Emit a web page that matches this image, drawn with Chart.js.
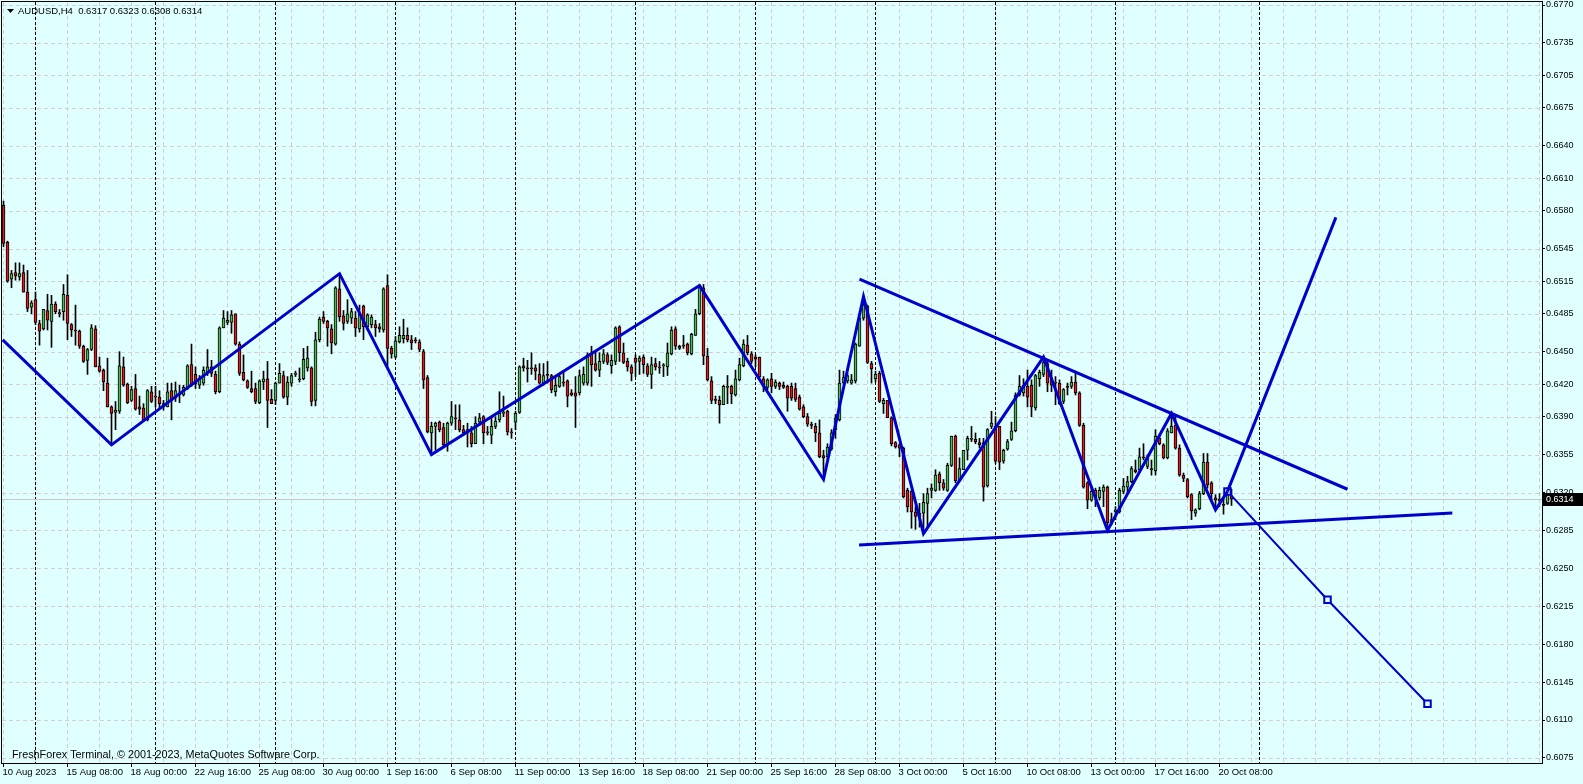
<!DOCTYPE html>
<html>
<head>
<meta charset="utf-8">
<title>AUDUSD,H4</title>
<script src="https://cdn.jsdelivr.net/npm/chart.js@4.4.1/dist/chart.umd.min.js"></script>
<style>
  html, body { margin: 0; padding: 0; background: #e0ffff; overflow: hidden; }
  #wrap { width: 1583px; height: 784px; }
</style>
</head>
<body>
<div id="wrap"><canvas id="chart" width="1583" height="784"></canvas></div>
<script>
// Chart header / footer text
const symbolTitle = 'AUDUSD,H4  0.6317 0.6323 0.6308 0.6314';
const footerText = 'FreshForex Terminal, \u00a9 2001-2023, MetaQuotes Software Corp.';

// H4 candles, bar 0 = 10 Aug 2023 16:00
const opens = [
  0.6585,0.6551,0.6517,0.6523,0.6519,0.6523,0.6505,0.6491,0.6498,0.6476,
  0.6471,0.6488,0.6478,0.6494,0.6486,0.6487,0.6502,0.6475,0.6470,0.6469,
  0.6455,0.6442,0.6452,0.6471,0.6437,0.6433,0.6421,0.6399,0.6394,0.6395,
  0.6436,0.6420,0.6405,0.6416,0.6399,0.6398,0.6387,0.6413,0.6409,0.6408,
  0.6399,0.6399,0.6414,0.6407,0.6412,0.6410,0.6416,0.6438,0.6429,0.6419,
  0.6421,0.6431,0.6436,0.6429,0.6413,0.6472,0.6477,0.6477,0.6485,0.6457,
  0.6431,0.6423,0.6416,0.6416,0.6403,0.6422,0.6425,0.6406,0.6405,0.6421,
  0.6428,0.6408,0.6421,0.6429,0.6424,0.6425,0.6435,0.6435,0.6405,0.6461,
  0.6482,0.6478,0.6471,0.6457,0.6508,0.6483,0.6478,0.6481,0.6481,0.6471,
  0.6492,0.6473,0.6475,0.6475,0.6473,0.6470,0.6511,0.6453,0.6445,0.6459,
  0.6462,0.6465,0.6461,0.6461,0.6459,0.6450,0.6426,0.6375,0.6381,0.6385,
  0.6380,0.6364,0.6384,0.6389,0.6387,0.6378,0.6375,0.6375,0.6365,0.6385,
  0.6390,0.6376,0.6373,0.6381,0.6387,0.6393,0.6395,0.6376,0.6385,0.6394,
  0.6437,0.6435,0.6435,0.6435,0.6429,0.6421,0.6429,0.6428,0.6413,0.6418,
  0.6422,0.6423,0.6412,0.6412,0.6412,0.6421,0.6421,0.6448,0.6439,0.6433,
  0.6441,0.6447,0.6437,0.6441,0.6473,0.6449,0.6441,0.6436,0.6444,0.6441,
  0.6445,0.6437,0.6429,0.6439,0.6436,0.6437,0.6436,0.6448,0.6471,0.6455,
  0.6456,0.6457,0.6448,0.6465,0.6485,0.6509,0.6446,0.6423,0.6406,0.6405,
  0.6401,0.6417,0.6418,0.6410,0.6424,0.6437,0.6456,0.6448,0.6445,0.6445,
  0.6425,0.6417,0.6425,0.6418,0.6421,0.6419,0.6418,0.6418,0.6416,0.6408,
  0.6399,0.6390,0.6383,0.6381,0.6375,0.6354,0.6353,0.6360,0.6378,0.6387,
  0.6421,0.6423,0.6421,0.6423,0.6455,0.6481,0.6492,0.6439,0.6425,0.6430,
  0.6402,0.6405,0.6389,0.6366,0.6364,0.6361,0.6322,0.6321,0.6302,0.6298,
  0.6301,0.6310,0.6322,0.6322,0.6337,0.6329,0.6322,0.6345,0.6372,0.6331,
  0.6341,0.6359,0.6369,0.6369,0.6366,0.6366,0.6326,0.6381,0.6381,0.6381,
  0.6349,0.6360,0.6369,0.6377,0.6410,0.6412,0.6418,0.6419,0.6398,0.6425,
  0.6429,0.6439,0.6425,0.6421,0.6421,0.6404,0.6418,0.6418,0.6422,0.6412,
  0.6382,0.6329,0.6313,0.6322,0.6315,0.6321,0.6325,0.6292,0.6302,0.6302,
  0.6321,0.6325,0.6330,0.6341,0.6341,0.6353,0.6344,0.6342,0.6340,0.6370,
  0.6364,0.6352,0.6375,0.6382,0.6361,0.6336,0.6332,0.6318,0.6301,0.6305,
  0.6319,0.6348,0.6329,0.6315,0.6314,0.6309,0.6310,0.6317
];
const highs = [
  0.6589,0.6552,0.6525,0.6532,0.6532,0.6530,0.6525,0.6497,0.6505,0.6479,
  0.6489,0.6503,0.6502,0.6496,0.6489,0.6512,0.6521,0.6476,0.6493,0.6470,
  0.6456,0.6453,0.6475,0.6474,0.6445,0.6434,0.6444,0.6400,0.6404,0.6450,
  0.6445,0.6421,0.6418,0.6429,0.6409,0.6402,0.6415,0.6418,0.6418,0.6414,
  0.6405,0.6421,0.6421,0.6422,0.6419,0.6419,0.6438,0.6457,0.6436,0.6428,
  0.6436,0.6452,0.6442,0.6432,0.6473,0.6488,0.6487,0.6488,0.6485,0.6459,
  0.6447,0.6424,0.6432,0.6421,0.6424,0.6432,0.6441,0.6415,0.6422,0.6439,
  0.6432,0.6427,0.6430,0.6432,0.6435,0.6453,0.6455,0.6436,0.6468,0.6482,
  0.6487,0.6479,0.6475,0.6510,0.6522,0.6488,0.6498,0.6490,0.6487,0.6493,
  0.6493,0.6485,0.6484,0.6479,0.6476,0.6509,0.6521,0.6455,0.6464,0.6473,
  0.6480,0.6472,0.6465,0.6463,0.6461,0.6452,0.6428,0.6385,0.6385,0.6386,
  0.6384,0.6385,0.6404,0.6401,0.6401,0.6382,0.6384,0.6381,0.6390,0.6393,
  0.6391,0.6381,0.6390,0.6390,0.6413,0.6409,0.6396,0.6379,0.6395,0.6437,
  0.6444,0.6442,0.6449,0.6438,0.6439,0.6439,0.6441,0.6429,0.6427,0.6430,
  0.6432,0.6424,0.6415,0.6427,0.6433,0.6436,0.6449,0.6455,0.6450,0.6449,
  0.6452,0.6449,0.6447,0.6473,0.6474,0.6458,0.6444,0.6438,0.6447,0.6446,
  0.6447,0.6439,0.6445,0.6444,0.6441,0.6439,0.6458,0.6473,0.6473,0.6456,
  0.6465,0.6458,0.6467,0.6489,0.6512,0.6512,0.6453,0.6427,0.6409,0.6409,
  0.6419,0.6428,0.6419,0.6433,0.6444,0.6461,0.6465,0.6450,0.6447,0.6445,
  0.6427,0.6425,0.6430,0.6424,0.6422,0.6422,0.6419,0.6421,0.6421,0.6410,
  0.6401,0.6393,0.6385,0.6384,0.6387,0.6359,0.6365,0.6378,0.6392,0.6433,
  0.6432,0.6430,0.6429,0.6458,0.6482,0.6501,0.6493,0.6441,0.6432,0.6432,
  0.6407,0.6405,0.6390,0.6367,0.6365,0.6362,0.6324,0.6322,0.6307,0.6310,
  0.6319,0.6324,0.6328,0.6341,0.6339,0.6332,0.6347,0.6372,0.6373,0.6352,
  0.6359,0.6372,0.6381,0.6375,0.6370,0.6370,0.6379,0.6395,0.6390,0.6381,
  0.6360,0.6369,0.6385,0.6412,0.6428,0.6425,0.6433,0.6424,0.6429,0.6433,
  0.6445,0.6442,0.6433,0.6427,0.6424,0.6416,0.6421,0.6427,0.6432,0.6413,
  0.6384,0.6330,0.6325,0.6324,0.6325,0.6327,0.6326,0.6301,0.6307,0.6324,
  0.6333,0.6335,0.6344,0.6350,0.6361,0.6365,0.6355,0.6350,0.6378,0.6373,
  0.6365,0.6379,0.6393,0.6392,0.6364,0.6338,0.6333,0.6319,0.6305,0.6321,
  0.6356,0.6356,0.6330,0.6318,0.6319,0.6315,0.6322,0.6323
];
const lows = [
  0.6547,0.6514,0.6509,0.6516,0.6516,0.6505,0.6487,0.6485,0.6475,0.6456,
  0.6470,0.6470,0.6454,0.6485,0.6482,0.6479,0.6461,0.6464,0.6456,0.6453,
  0.6440,0.6429,0.6451,0.6436,0.6431,0.6414,0.6399,0.6364,0.6378,0.6393,
  0.6418,0.6402,0.6404,0.6396,0.6392,0.6386,0.6386,0.6403,0.6399,0.6398,
  0.6396,0.6399,0.6387,0.6404,0.6403,0.6409,0.6415,0.6418,0.6416,0.6416,
  0.6419,0.6428,0.6427,0.6411,0.6412,0.6472,0.6475,0.6467,0.6456,0.6428,
  0.6423,0.6416,0.6412,0.6402,0.6402,0.6415,0.6380,0.6402,0.6401,0.6421,
  0.6407,0.6401,0.6418,0.6427,0.6422,0.6424,0.6432,0.6400,0.6400,0.6459,
  0.6476,0.6455,0.6448,0.6456,0.6478,0.6470,0.6476,0.6476,0.6464,0.6468,
  0.6461,0.6470,0.6472,0.6464,0.6468,0.6468,0.6436,0.6444,0.6444,0.6458,
  0.6458,0.6459,0.6452,0.6458,0.6450,0.6416,0.6375,0.6355,0.6359,0.6376,
  0.6363,0.6358,0.6382,0.6378,0.6376,0.6373,0.6362,0.6362,0.6365,0.6382,
  0.6365,0.6373,0.6365,0.6379,0.6385,0.6390,0.6373,0.6370,0.6378,0.6393,
  0.6432,0.6422,0.6429,0.6424,0.6420,0.6419,0.6421,0.6412,0.6409,0.6417,
  0.6418,0.6399,0.6409,0.6380,0.6410,0.6419,0.6419,0.6418,0.6432,0.6427,
  0.6439,0.6438,0.6430,0.6438,0.6441,0.6439,0.6432,0.6423,0.6427,0.6429,
  0.6430,0.6427,0.6416,0.6433,0.6430,0.6427,0.6428,0.6447,0.6452,0.6452,
  0.6453,0.6447,0.6447,0.6465,0.6484,0.6438,0.6423,0.6402,0.6402,0.6384,
  0.6401,0.6402,0.6402,0.6409,0.6423,0.6436,0.6447,0.6439,0.6436,0.6426,
  0.6413,0.6415,0.6412,0.6416,0.6415,0.6416,0.6395,0.6405,0.6404,0.6396,
  0.6389,0.6381,0.6379,0.6367,0.6352,0.6332,0.6351,0.6359,0.6370,0.6386,
  0.6421,0.6421,0.6420,0.6421,0.6455,0.6479,0.6439,0.6421,0.6422,0.6403,
  0.6393,0.6389,0.6363,0.6361,0.6353,0.6315,0.6302,0.6287,0.6286,0.6288,
  0.6282,0.6288,0.6315,0.6321,0.6322,0.6322,0.6321,0.6344,0.6329,0.6330,
  0.6341,0.6350,0.6367,0.6365,0.6361,0.6312,0.6325,0.6379,0.6347,0.6341,
  0.6347,0.6359,0.6368,0.6376,0.6409,0.6409,0.6399,0.6390,0.6396,0.6418,
  0.6427,0.6413,0.6413,0.6401,0.6401,0.6402,0.6410,0.6416,0.6410,0.6381,
  0.6324,0.6305,0.6312,0.6307,0.6313,0.6307,0.6285,0.6290,0.6295,0.6301,
  0.6319,0.6319,0.6329,0.6338,0.6339,0.6350,0.6342,0.6336,0.6336,0.6364,
  0.6351,0.6351,0.6375,0.6360,0.6335,0.6330,0.6315,0.6295,0.6298,0.6304,
  0.6318,0.6324,0.6313,0.6304,0.6307,0.6300,0.6309,0.6308
];
const closes = [
  0.6550,0.6515,0.6522,0.6520,0.6522,0.6505,0.6490,0.6495,0.6477,0.6469,
  0.6489,0.6479,0.6494,0.6487,0.6485,0.6503,0.6476,0.6470,0.6469,0.6455,
  0.6441,0.6452,0.6472,0.6436,0.6432,0.6422,0.6399,0.6393,0.6396,0.6437,
  0.6419,0.6403,0.6415,0.6397,0.6397,0.6387,0.6414,0.6404,0.6408,0.6402,
  0.6402,0.6413,0.6405,0.6414,0.6410,0.6417,0.6437,0.6419,0.6420,0.6425,
  0.6433,0.6436,0.6430,0.6413,0.6472,0.6481,0.6479,0.6484,0.6457,0.6430,
  0.6424,0.6417,0.6413,0.6404,0.6423,0.6425,0.6405,0.6402,0.6421,0.6430,
  0.6408,0.6422,0.6428,0.6429,0.6425,0.6443,0.6444,0.6404,0.6461,0.6480,
  0.6478,0.6472,0.6458,0.6509,0.6482,0.6476,0.6485,0.6487,0.6472,0.6485,
  0.6473,0.6484,0.6482,0.6472,0.6471,0.6508,0.6453,0.6448,0.6460,0.6465,
  0.6465,0.6461,0.6458,0.6460,0.6452,0.6424,0.6376,0.6381,0.6384,0.6378,
  0.6364,0.6384,0.6390,0.6388,0.6378,0.6375,0.6378,0.6365,0.6384,0.6389,
  0.6375,0.6375,0.6381,0.6386,0.6393,0.6394,0.6376,0.6375,0.6393,0.6436,
  0.6435,0.6434,0.6434,0.6432,0.6421,0.6428,0.6428,0.6415,0.6419,0.6427,
  0.6421,0.6409,0.6410,0.6409,0.6428,0.6429,0.6447,0.6438,0.6433,0.6441,
  0.6448,0.6440,0.6442,0.6472,0.6449,0.6440,0.6436,0.6430,0.6440,0.6444,
  0.6438,0.6429,0.6438,0.6436,0.6435,0.6437,0.6449,0.6470,0.6455,0.6453,
  0.6455,0.6449,0.6466,0.6485,0.6511,0.6446,0.6424,0.6405,0.6405,0.6401,
  0.6418,0.6418,0.6411,0.6425,0.6438,0.6457,0.6449,0.6441,0.6443,0.6427,
  0.6418,0.6424,0.6418,0.6422,0.6418,0.6417,0.6407,0.6407,0.6406,0.6397,
  0.6390,0.6383,0.6382,0.6375,0.6353,0.6352,0.6362,0.6375,0.6389,0.6421,
  0.6426,0.6428,0.6424,0.6457,0.6481,0.6493,0.6440,0.6434,0.6429,0.6404,
  0.6405,0.6389,0.6365,0.6362,0.6361,0.6316,0.6307,0.6302,0.6298,0.6301,
  0.6311,0.6319,0.6324,0.6336,0.6329,0.6324,0.6345,0.6372,0.6331,0.6342,
  0.6359,0.6370,0.6369,0.6367,0.6364,0.6325,0.6378,0.6384,0.6349,0.6348,
  0.6359,0.6367,0.6377,0.6410,0.6418,0.6419,0.6408,0.6399,0.6428,0.6431,
  0.6440,0.6421,0.6419,0.6422,0.6402,0.6415,0.6417,0.6422,0.6412,0.6382,
  0.6325,0.6313,0.6321,0.6316,0.6322,0.6325,0.6292,0.6295,0.6304,0.6322,
  0.6326,0.6330,0.6342,0.6339,0.6353,0.6352,0.6353,0.6341,0.6372,0.6365,
  0.6352,0.6377,0.6381,0.6361,0.6336,0.6333,0.6316,0.6303,0.6304,0.6319,
  0.6348,0.6327,0.6319,0.6313,0.6312,0.6308,0.6319,0.6314
];

// time labels, one every 16 bars starting at bar 0
const xLabels = [
  '10 Aug 2023', '15 Aug 08:00', '18 Aug 00:00', '22 Aug 16:00', '25 Aug 08:00',
  '30 Aug 00:00', '1 Sep 16:00', '6 Sep 08:00', '11 Sep 00:00', '13 Sep 16:00',
  '18 Sep 08:00', '21 Sep 00:00', '25 Sep 16:00', '28 Sep 08:00', '3 Oct 00:00',
  '5 Oct 16:00', '10 Oct 08:00', '13 Oct 00:00', '17 Oct 16:00', '20 Oct 08:00'
];
const yTicks = [
  0.6770, 0.6735, 0.6705, 0.6675, 0.6640, 0.6610, 0.6580, 0.6545, 0.6515, 0.6485, 0.6450,
  0.6420, 0.6390, 0.6355, 0.6320, 0.6285, 0.6250, 0.6215, 0.6180, 0.6145, 0.6110, 0.6075
];
// bars where a new week starts (period separators)
const weekStarts = [8, 38, 68, 98, 128, 158, 188, 218, 248, 278, 314];

// drawn objects (bar index, price)
const zigzagBars   = [-0.2, 27, 84, 107, 174, 205, 215, 230, 260, 276, 292, 303, 306];
const zigzagPrices = [0.6461, 0.6364, 0.6522, 0.6355, 0.6511, 0.6332, 0.6501, 0.6282, 0.6445, 0.6285, 0.6393, 0.6304, 0.6321];
const upperTrendBars = [214, 336];
const upperTrendPrices = [0.6517, 0.6323];
const lowerTrendBars = [213.9, 362.2];
const lowerTrendPrices = [0.62715, 0.6301];
const upTargetBars = [306, 333.1];
const upTargetPrices = [0.6321, 0.6574];
const downTargetBars = [306, 331, 356];
const downTargetPrices = [0.6321, 0.6221, 0.6125];
const lastPrice = 0.6314;

const BG = '#e0ffff';
const BLUE = '#0000cd';
const BULL = '#52b852';
const BEAR = '#dd1a1a';
const GRID = '#d6cdd2';
const FONT = '"Liberation Sans", Arial, sans-serif';

const gridBars = [];
for (let b = 0; b <= 384; b += 8) gridBars.push(b);

function labelAt(v) {
    if (v % 16 !== 0) return '';
    return xLabels[v / 16] || '';
}

const toPoints = (xs, ys) => xs.map((x, i) => ({ x: x, y: ys[i] }));

const bodies = opens.map((o, i) => ({ x: i, y: [Math.min(o, closes[i]), Math.max(o, closes[i])] }));
const wicks = highs.map((h, i) => ({ x: i, y: [lows[i], h] }));

function lineSet(label, points, width) {
    return {
        type: 'line',
        label: label,
        data: points,
        borderColor: BLUE,
        borderWidth: width,
        pointRadius: 0,
        tension: 0,
        fill: false
    };
}

// strip the automatic label padding so the plot area keeps its fixed box
function fixPadding(s) {
    s.paddingLeft = 0; s.paddingRight = 0; s.paddingTop = 0; s.paddingBottom = 0;
}

const decor = {
    id: 'decor',
    beforeDraw(chart) {
        const ctx = chart.ctx;
        ctx.save();
        ctx.fillStyle = BG;
        ctx.fillRect(0, 0, chart.width, chart.height);
        ctx.restore();
    },
    beforeDatasetsDraw(chart) {
        const { ctx, chartArea: a, scales: { x, y } } = chart;
        const vline = px => { ctx.beginPath(); ctx.moveTo(px, a.top); ctx.lineTo(px, a.bottom); ctx.stroke(); };
        ctx.save();
        ctx.lineWidth = 1;

        // dotted grid
        ctx.strokeStyle = GRID;
        ctx.setLineDash([4, 3]);
        gridBars.forEach(b => vline(Math.floor(x.getPixelForValue(b)) + 0.5));
        yTicks.forEach(v => {
            const py = Math.round(y.getPixelForValue(v)) + 0.5;
            ctx.beginPath(); ctx.moveTo(a.left, py); ctx.lineTo(a.right, py); ctx.stroke();
        });

        // period separators
        ctx.strokeStyle = '#000';
        ctx.setLineDash([3, 2]);
        weekStarts.forEach(b => vline(Math.floor(x.getPixelForValue(b)) + 0.5));

        // bid line
        ctx.setLineDash([]);
        ctx.strokeStyle = '#c8c8c8';
        const pb = Math.round(y.getPixelForValue(lastPrice)) + 0.5;
        ctx.beginPath(); ctx.moveTo(a.left, pb); ctx.lineTo(a.right, pb); ctx.stroke();
        ctx.restore();
    },
    afterDraw(chart) {
        const { ctx, chartArea: a, scales: { y } } = chart;
        ctx.save();

        // frame
        ctx.strokeStyle = '#000';
        ctx.lineWidth = 1;
        ctx.strokeRect(a.left - 0.5, a.top - 0.5, a.right - a.left + 1, a.bottom - a.top + 1);

        // title
        ctx.fillStyle = '#000';
        ctx.beginPath();
        ctx.moveTo(7, 9); ctx.lineTo(14, 9); ctx.lineTo(10.5, 13); ctx.closePath();
        ctx.fill();
        ctx.font = '9.5px ' + FONT;
        ctx.textBaseline = 'middle';
        ctx.textAlign = 'left';
        ctx.fillText(symbolTitle, 18, 11.5);

        // footer
        ctx.font = '10.8px ' + FONT;
        ctx.fillText(footerText, 12, 755.5);

        // price tag
        const py = Math.round(y.getPixelForValue(lastPrice));
        ctx.fillStyle = '#000';
        ctx.fillRect(a.right + 1, py - 6, 40, 13);
        ctx.fillStyle = '#fff';
        ctx.font = '9px ' + FONT;
        ctx.fillText(lastPrice.toFixed(4), a.right + 4, py + 0.5);
        ctx.restore();
    }
};

const ctx = document.getElementById('chart').getContext('2d');
new Chart(ctx, {
    type: 'bar',
    data: {
        datasets: [
            lineSet('ZigZag', toPoints(zigzagBars, zigzagPrices), 3),
            lineSet('Upper trend', toPoints(upperTrendBars, upperTrendPrices), 3),
            lineSet('Lower trend', toPoints(lowerTrendBars, lowerTrendPrices), 3),
            lineSet('Up target', toPoints(upTargetBars, upTargetPrices), 3),
            {
                type: 'line',
                label: 'Down target',
                data: toPoints(downTargetBars, downTargetPrices),
                borderColor: BLUE,
                borderWidth: 2,
                tension: 0,
                pointStyle: 'rect',
                pointRadius: 4.6,
                pointBorderWidth: 2,
                pointBorderColor: BLUE,
                pointBackgroundColor: BG
            },
            {
                label: 'Body',
                data: bodies,
                backgroundColor: c => (closes[c.dataIndex] >= opens[c.dataIndex] ? BULL : BEAR),
                borderColor: '#000',
                borderWidth: 1,
                borderSkipped: false,
                barThickness: 3,
                minBarLength: 1,
                grouped: false
            },
            {
                label: 'Wick',
                data: wicks,
                backgroundColor: '#000',
                borderWidth: 0,
                barThickness: 1,
                minBarLength: 1,
                grouped: false
            }
        ]
    },
    options: {
        responsive: false,
        devicePixelRatio: 1,
        animation: false,
        events: [],
        layout: { autoPadding: false, padding: { left: 2, top: 2, right: 0, bottom: 0 } },
        plugins: {
            legend: { display: false },
            tooltip: { enabled: false },
            title: { display: false }
        },
        scales: {
            x: {
                type: 'linear',
                position: 'bottom',
                min: -0.375,
                max: 384.625,
                offset: false,
                bounds: 'data',
                afterBuildTicks: s => { s.ticks = gridBars.map(v => ({ value: v })); },
                afterFit: s => { s.height = 21; fixPadding(s); },
                grid: {
                    offset: false,
                    drawOnChartArea: false,
                    drawTicks: true,
                    tickLength: 4,
                    tickColor: c => (labelAt(gridBars[c.index]) ? '#000' : 'rgba(0,0,0,0)')
                },
                border: { display: false },
                ticks: {
                    autoSkip: false,
                    maxRotation: 0,
                    minRotation: 0,
                    align: 'start',
                    labelOffset: -1,
                    padding: 0,
                    color: '#000',
                    font: { family: FONT, size: 9.5 },
                    callback: v => labelAt(v)
                }
            },
            y: {
                type: 'linear',
                position: 'right',
                min: 0.607031,
                max: 0.677277,
                bounds: 'data',
                afterBuildTicks: s => { s.ticks = yTicks.map(v => ({ value: v })); },
                afterFit: s => { s.width = 41; fixPadding(s); },
                grid: {
                    drawOnChartArea: false,
                    drawTicks: true,
                    tickLength: 3,
                    tickColor: '#000'
                },
                border: { display: false },
                ticks: {
                    autoSkip: false,
                    padding: 1,
                    color: '#000',
                    font: { family: FONT, size: 9 },
                    callback: v => v.toFixed(4)
                }
            }
        }
    },
    plugins: [decor]
});
</script>
</body>
</html>
